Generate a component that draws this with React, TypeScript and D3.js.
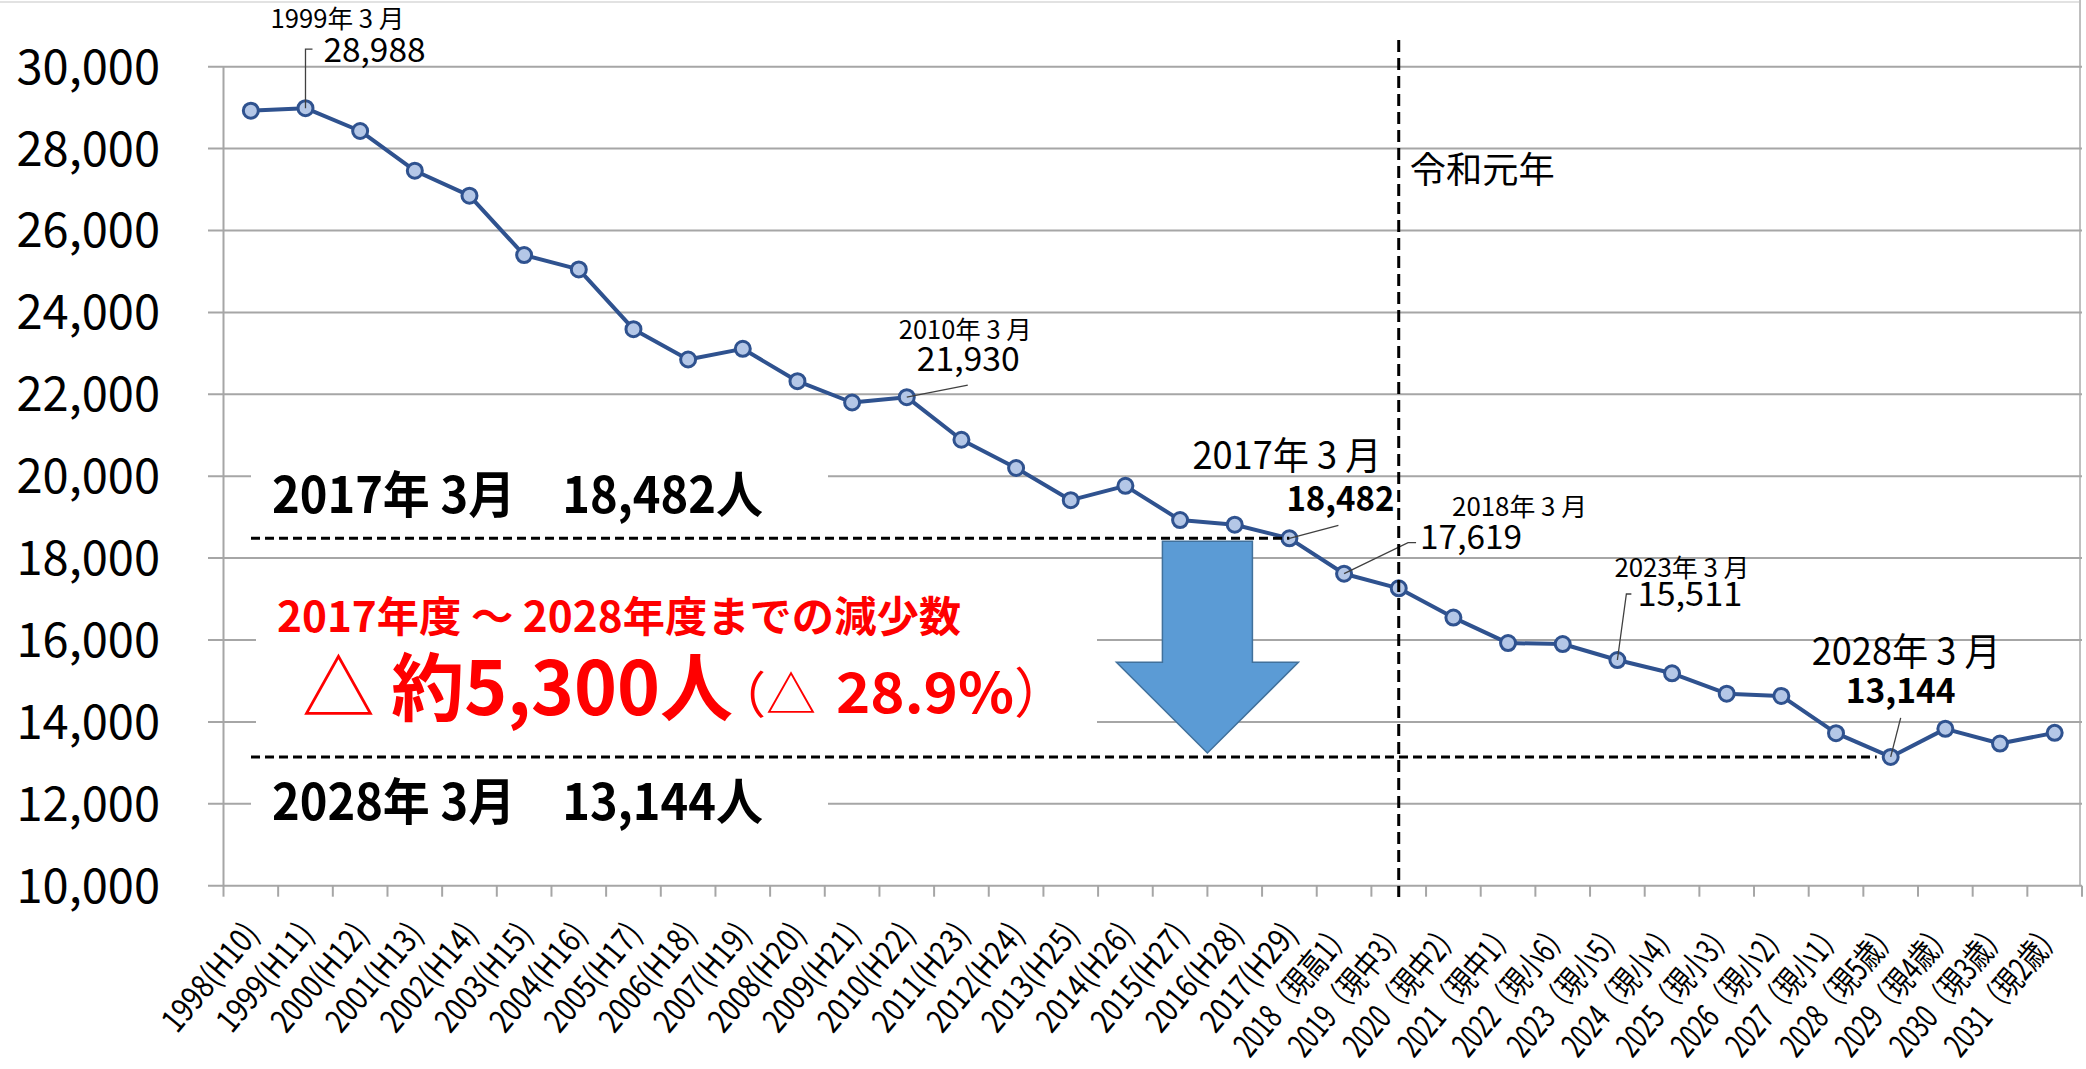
import React from 'react';
import * as d3 from 'd3';

// 高校卒業者数（各年3月）の推移と見込み
const years = [
  '1998', '1999', '2000', '2001', '2002', '2003', '2004', '2005', '2006', '2007', '2008', '2009',
  '2010', '2011', '2012', '2013', '2014', '2015', '2016', '2017', '2018', '2019', '2020', '2021',
  '2022', '2023', '2024', '2025', '2026', '2027', '2028', '2029', '2030', '2031',
];

const tickLabels = [
  '1998(H10)', '1999(H11)', '2000(H12)', '2001(H13)', '2002(H14)', '2003(H15)', '2004(H16)',
  '2005(H17)', '2006(H18)', '2007(H19)', '2008(H20)', '2009(H21)', '2010(H22)', '2011(H23)',
  '2012(H24)', '2013(H25)', '2014(H26)', '2015(H27)', '2016(H28)', '2017(H29)',
  '2018（現高1）', '2019（現中3）', '2020（現中2）', '2021（現中1）', '2022（現小6）',
  '2023（現小5）', '2024（現小4）', '2025（現小3）', '2026（現小2）', '2027（現小1）',
  '2028（現5歳）', '2029（現4歳）', '2030（現3歳）', '2031（現2歳）',
];

const values = [
  28925, 28988, 28430, 27460, 26850, 25400, 25050, 23590, 22850, 23110, 22320, 21800,
  21930, 20890, 20200, 19415, 19765, 18928, 18815, 18482, 17619, 17262, 16547, 15925,
  15902, 15511, 15187, 14690, 14634, 13724, 13144, 13830, 13472, 13732,
];

const yTicks = [10000, 12000, 14000, 16000, 18000, 20000, 22000, 24000, 26000, 28000, 30000];

// callouts: year, small label, value text
const calloutYears = ['1999', '2010', '2017', '2018', '2023', '2028'];
const calloutLabels = ['1999年 3 月', '2010年 3 月', '2017年 3 月', '2018年 3 月', '2023年 3 月', '2028年 3 月'];
const calloutValues = ['28,988', '21,930', '18,482', '17,619', '15,511', '13,144'];

const startYear = '2017';
const endYear = '2028';
const reiwaYear = '2019';

const W = 2086;
const H = 1069;
const JP = "'Noto Sans CJK JP', 'Noto Sans', sans-serif";

// layout of callout texts relative to the data point
const calloutLayout = [
  { lx: -35, ly: -80, lw: 134, ls: 25, vx: 18, vy: -46, vw: 102, vs: 33, bold: false, leader: [[0, 0], [0, -59], [7, -59]] },
  { lx: -8, ly: -58, lw: 133, ls: 25, vx: 10, vy: -26, vw: 103, vs: 33, bold: false, leader: [[0, 0], [61, -12]] },
  { lx: -97, ly: -69, lw: 189, ls: 38, vx: -3, vy: -27, vw: 108, vs: 34, bold: true, leader: [[0, 0], [49, -13]] },
  { lx: 108, ly: -58, lw: 135, ls: 25, vx: 76, vy: -25, vw: 102, vs: 33, bold: false, leader: [[0, 0], [64, -31], [72, -31]] },
  { lx: -3, ly: -83, lw: 135, ls: 25, vx: 20, vy: -54, vw: 105, vs: 33, bold: false, leader: [[0, 0], [9, -66], [14, -66]] },
  { lx: -79, ly: -92, lw: 189, ls: 38, vx: -45, vy: -54, vw: 110, vs: 34, bold: true, leader: [[0, 0], [10, -39]] },
];

export default function App() {
  const left = 223.5;
  const right = 2082;
  const top = 66.7;
  const bottom = 885.7;

  const x = d3.scaleBand<string>().domain(years).range([left, right]);
  const cx = (yr: string) => (x(yr) as number) + x.bandwidth() / 2;
  const y = d3.scaleLinear().domain([10000, 30000]).range([bottom, top]);

  const pts = years.map((yr, i) => [cx(yr), y(values[i])] as [number, number]);
  const line = d3.line();
  const fmt = d3.format(',');

  const vStart = values[years.indexOf(startYear)];
  const vEnd = values[years.indexOf(endYear)];
  const yStart = y(vStart);
  const yEnd = y(vEnd);

  // arrow centred on the 2015/2016 boundary
  const ax = x('2016') as number;
  const arrow = [
    [ax - 45, yStart + 3], [ax + 45, yStart + 3], [ax + 45, yStart + 124], [ax + 91, yStart + 124],
    [ax, yEnd - 4], [ax - 91, yStart + 124], [ax - 45, yStart + 124],
  ];

  const boundaries = years.map((yr) => x(yr) as number).concat([right]);

  return (
    <svg width={W} height={H} style={{ position: 'absolute', left: 0, top: 0, background: '#fff' }} fontFamily={JP}>
      <rect x={0} y={0} width={W} height={H} fill="#fff" />
      {/* chart border */}
      <line x1={0} x2={2080} y1={2} y2={2} stroke="#d9d9d9" strokeWidth={1.5} />
      <line x1={2080} x2={2080} y1={0} y2={bottom} stroke="#bfbfbf" strokeWidth={2} />

      {/* gridlines + y labels */}
      {yTicks.map((t) => (
        <g key={t}>
          <line x1={208} x2={right} y1={y(t)} y2={y(t)} stroke="#a6a6a6" strokeWidth={2} />
          <text x={160} y={y(t)} dy="0.36em" textAnchor="end" fontSize={47} fill="#000">
            {fmt(t)}
          </text>
        </g>
      ))}
      <line x1={left} x2={left} y1={top} y2={bottom} stroke="#a6a6a6" strokeWidth={2} />
      {boundaries.map((b, i) => (
        <line key={i} x1={b} x2={b} y1={bottom} y2={bottom + 11} stroke="#a6a6a6" strokeWidth={2} />
      ))}

      {/* x labels */}
      {years.map((yr, i) => {
        const tx = cx(yr) - 1;
        const ty = 926;
        const jp = /[^\x00-\x7f]/.test(tickLabels[i]);
        return (
          <text key={yr} x={tx} y={ty} textAnchor="end" dominantBaseline="central" fontSize={33}
            textLength={jp ? 162 : 130} lengthAdjust="spacingAndGlyphs"
            transform={`rotate(-50 ${tx} ${ty})`} fill="#000">
            {tickLabels[i]}
          </text>
        );
      })}

      {/* series */}
      <path d={line(pts) as string} fill="none" stroke="#2f528f" strokeWidth={4} strokeLinejoin="round" />
      {pts.map((p, i) => (
        <circle key={i} cx={p[0]} cy={p[1]} r={7.5} fill="#b4c7e7" stroke="#2f528f" strokeWidth={3} />
      ))}

      {/* callouts */}
      {calloutYears.map((yr, i) => {
        const px = cx(yr);
        const py = y(values[years.indexOf(yr)]);
        const L = calloutLayout[i];
        return (
          <g key={yr}>
            <polyline points={L.leader.map((d) => `${px + d[0]},${py + d[1]}`).join(' ')} fill="none" stroke="#404040" strokeWidth={1.3} />
            <text x={px + L.lx} y={py + L.ly} fontSize={L.ls} textLength={L.lw} lengthAdjust="spacingAndGlyphs" fill="#000">
              {calloutLabels[i]}
            </text>
            <text x={px + L.vx} y={py + L.vy} fontSize={L.vs} fontWeight={L.bold ? 700 : 400} textLength={L.vw} lengthAdjust="spacingAndGlyphs" fill="#000">
              {calloutValues[i]}
            </text>
          </g>
        );
      })}

      {/* 令和 line */}
      <line x1={cx(reiwaYear)} x2={cx(reiwaYear)} y1={40} y2={897} stroke="#000" strokeWidth={3} strokeDasharray="12 6" />
      <text x={cx(reiwaYear) + 11} y={183} fontSize={36} textLength={145} lengthAdjust="spacingAndGlyphs" fill="#000">令和元年</text>

      {/* text boxes */}
      <rect x={251} y={450} width={577} height={80} fill="#fff" />
      <rect x={256} y={578} width={841} height={165} fill="#fff" />
      <rect x={251} y={772} width={577} height={64} fill="#fff" />

      <text x={272} y={513} fontSize={50} fontWeight={700} textLength={491} lengthAdjust="spacingAndGlyphs" fill="#000">
        {`${startYear}年 3月　${fmt(vStart)}人`}
      </text>
      <text x={272} y={820} fontSize={50} fontWeight={700} textLength={491} lengthAdjust="spacingAndGlyphs" fill="#000">
        {`${endYear}年 3月　${fmt(vEnd)}人`}
      </text>
      <text x={277} y={632} fontSize={42} fontWeight={700} textLength={684} lengthAdjust="spacingAndGlyphs" fill="#ff0000">
        {`${startYear}年度 ～ ${endYear}年度までの減少数`}
      </text>
      <text x={302} y={715} fontSize={74} textLength={431} lengthAdjust="spacingAndGlyphs" fill="#ff0000">
        <tspan fontWeight={400}>△ </tspan>
        <tspan fontWeight={700}>約5,300人</tspan>
      </text>
      <text x={716} y={713} fontSize={50} fill="#ff0000">（△</text>
      <text x={836} y={713} fontSize={56} fontWeight={700} textLength={178} lengthAdjust="spacingAndGlyphs" fill="#ff0000">
        {d3.format('.1%')((vStart - vEnd) / vStart)}
      </text>
      <text x={1014} y={713} fontSize={54} fill="#ff0000">）</text>

      {/* dashed reference lines */}
      <line x1={251} x2={cx(startYear)} y1={yStart} y2={yStart} stroke="#000" strokeWidth={3} strokeDasharray="9 5" />
      <line x1={251} x2={cx(endYear) - 14} y1={yEnd} y2={yEnd} stroke="#000" strokeWidth={3} strokeDasharray="9 5" />

      {/* arrow */}
      <polygon points={arrow.map((p) => p.join(',')).join(' ')} fill="#5b9bd5" stroke="#41719c" strokeWidth={1.5} />
    </svg>
  );
}
